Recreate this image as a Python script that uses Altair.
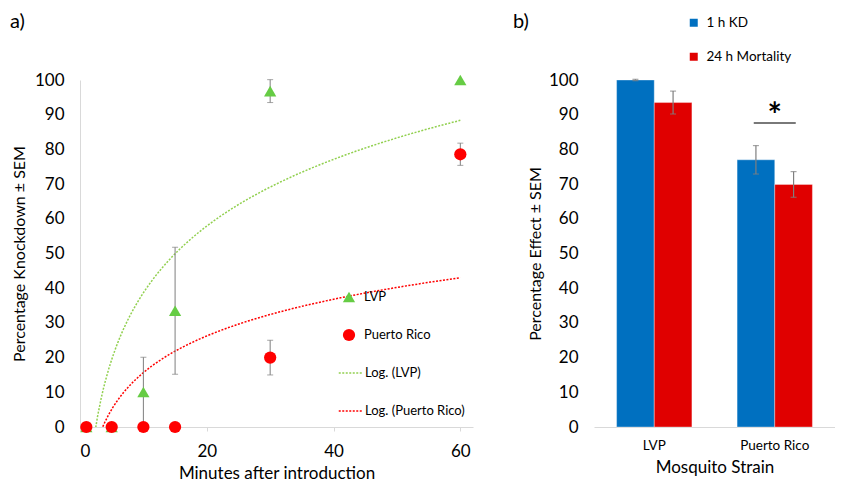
import altair as alt
import pandas as pd

# ---------- panel a) data ----------
minutes = [1, 5, 10, 15, 30, 60]
lvp_kd = [0, 0, 10.1, 33.5, 96.8, 100]
lvp_sem = [0, 0, 10.0, 18.3, 3.3, 0]
pr_kd = [0, 0, 0, 0, 20.0, 78.6]
pr_sem = [0, 0, 0, 0, 5.0, 3.2]
strain_names = ["LVP", "Puerto Rico"]
trend_names = ["Log. (LVP)", "Log. (Puerto Rico)"]

# ---------- panel b) data ----------
strains = ["LVP", "Puerto Rico"]
measures = ["1 h KD", "24 h Mortality"]
kd_1h = [100, 77.0]
kd_1h_sem = [0.2, 4.1]
mort_24h = [93.5, 69.9]
mort_24h_sem = [3.3, 3.7]
sig_strain = ["Puerto Rico"]
sig_line = [87.6]
sig_star = [89.3]

FONT = "Lato"
GREY = "#7f7f7f"
AXIS_GREY = "#d9d9d9"

rows = []
for s, t, vals, sems in [(strain_names[0], trend_names[0], lvp_kd, lvp_sem),
                         (strain_names[1], trend_names[1], pr_kd, pr_sem)]:
    for m, v, e in zip(minutes, vals, sems):
        rows.append({"minutes": m, "value": v, "sem": e, "lo": v - e, "hi": v + e,
                     "strain": s, "trend": t})
df_a = pd.DataFrame(rows)
df_err = df_a[df_a["sem"] > 0]

xscale_a = alt.Scale(domain=[0, 62], nice=False)
xa_axis = alt.Axis(values=[0, 20, 40, 60], title="Minutes after introduction", grid=False,
                   domainColor=AXIS_GREY, tickColor=AXIS_GREY, tickSize=4,
                   labelFontSize=17, titleFontSize=17, labelPadding=12,
                   titlePadding=6, titleFontWeight="normal", labelOverlap=False)
xa = alt.X("minutes:Q", scale=xscale_a, axis=xa_axis)
ya_axis = alt.Axis(values=list(range(0, 101, 10)), title="Percentage Knockdown ± SEM", grid=False,
                   ticks=False, domainColor=AXIS_GREY, labelFontSize=17, titleFontSize=16,
                   labelPadding=16, titlePadding=7, titleFontWeight="normal", labelOverlap=False)
yscale = alt.Scale(domain=[0, 100], nice=False)


def ya(field):
    return alt.Y(field, scale=yscale, axis=ya_axis)


trend = alt.Chart(df_a).transform_regression(
    "minutes", "value", method="log", groupby=["trend"], extent=[1, 60]
).mark_line(strokeDash=[2, 1.5], strokeWidth=1.5, clip=True).encode(
    x=xa,
    y=ya("value:Q"),
    color=alt.Color("trend:N", scale=alt.Scale(domain=trend_names, range=["#92D050", "#FF0000"]),
                    legend=alt.Legend(orient="none", legendX=258, legendY=280, title=None,
                                      symbolType="stroke", symbolDash=[2, 1.5], symbolStrokeWidth=1.5,
                                      symbolSize=600, labelFontSize=13, labelOffset=1,
                                      rowPadding=18, labelFont=FONT)),
)

err_rule = alt.Chart(df_err).mark_rule(color=GREY, strokeWidth=1).encode(
    x=xa, y=ya("lo:Q"), y2="hi:Q")
err_hi = alt.Chart(df_err).mark_tick(orient="horizontal", size=6, thickness=1, color=GREY).encode(
    x=xa, y=ya("hi:Q"))
err_lo = alt.Chart(df_err).mark_tick(orient="horizontal", size=6, thickness=1, color=GREY).encode(
    x=xa, y=ya("lo:Q"))

pt_legend = alt.Legend(orient="none", legendX=262, legendY=210, title=None, symbolSize=150,
                       labelFontSize=13, labelOffset=8, rowPadding=24, labelFont=FONT)
points = alt.Chart(df_a).mark_point(filled=True, size=150, opacity=1).encode(
    x=xa,
    y=ya("value:Q"),
    color=alt.Color("strain:N", scale=alt.Scale(domain=strain_names, range=["#66CC44", "#FF0000"]),
                    legend=pt_legend),
    shape=alt.Shape("strain:N", scale=alt.Scale(domain=strain_names, range=["triangle-up", "circle"]),
                    legend=pt_legend),
)

panel_a = alt.layer(trend, err_rule, err_hi, err_lo, points).resolve_scale(
    color="independent", shape="independent"
).properties(
    width=393, height=347,
    title=alt.TitleParams("a)", anchor="start", frame="group", dx=-70, offset=39,
                          fontSize=20, fontWeight="normal", font=FONT),
)

# ---------- panel b) ----------
rows_b = []
for i, s in enumerate(strains):
    for m, vals, sems in [(measures[0], kd_1h, kd_1h_sem), (measures[1], mort_24h, mort_24h_sem)]:
        v, e = vals[i], sems[i]
        rows_b.append({"strain": s, "measure": m, "value": v, "lo": v - e, "hi": v + e})
df_b = pd.DataFrame(rows_b)
df_sig = pd.DataFrame({"strain": sig_strain, "line": sig_line, "star_y": sig_star, "star": ["*"]})

xscale_b = alt.Scale(domain=strains, paddingInner=0, paddingOuter=0)
xb_axis = alt.Axis(labelAngle=0, ticks=False, domainColor=AXIS_GREY, title="Mosquito Strain",
                   labelFontSize=13.5, titleFontSize=17, labelPadding=11, titlePadding=8,
                   titleFontWeight="normal")
xb = alt.X("strain:N", scale=xscale_b, axis=xb_axis)
xoff = alt.XOffset("measure:N", scale=alt.Scale(domain=measures, paddingInner=0, paddingOuter=0.6))
yb_axis = alt.Axis(values=list(range(0, 101, 10)), title="Percentage Effect ± SEM", grid=False,
                   ticks=False, domain=False, labelFontSize=17, titleFontSize=16,
                   labelPadding=16, titlePadding=5, titleFontWeight="normal", labelOverlap=False)


def yb(field):
    return alt.Y(field, scale=yscale, axis=yb_axis)


bars = alt.Chart(df_b).mark_bar(stroke="white", strokeOpacity=0.35, strokeWidth=1).encode(
    x=xb, xOffset=xoff,
    y=yb("value:Q"),
    color=alt.Color("measure:N", scale=alt.Scale(domain=measures, range=["#0070C0", "#E00000"]),
                    legend=alt.Legend(orient="none", legendX=607, legendY=-64, title=None,
                                      symbolType="square", symbolSize=90, labelFontSize=13.5,
                                      labelOffset=6, rowPadding=18, labelFont=FONT)),
)
b_rule = alt.Chart(df_b).mark_rule(color=GREY, strokeWidth=1.2).encode(
    x=xb, xOffset=xoff, y=yb("lo:Q"), y2="hi:Q")
b_hi = alt.Chart(df_b).mark_tick(orient="horizontal", size=6, thickness=1.2, color=GREY).encode(
    x=xb, xOffset=xoff, y=yb("hi:Q"))
b_lo = alt.Chart(df_b).mark_tick(orient="horizontal", size=6, thickness=1.2, color=GREY).encode(
    x=xb, xOffset=xoff, y=yb("lo:Q"))
sig = alt.Chart(df_sig).mark_tick(orient="horizontal", size=42, thickness=1.5, color="black").encode(
    x=xb, y=yb("line:Q"))
star = alt.Chart(df_sig).mark_text(fontSize=34, fontWeight="bold", baseline="middle", font=FONT,
                                   color="black").encode(
    x=xb, y=yb("star_y:Q"), text="star:N")

panel_b = alt.layer(bars, b_rule, b_hi, b_lo, sig, star).properties(
    width=241, height=347,
    title=alt.TitleParams("b)", anchor="start", frame="group", dx=-81, offset=39,
                          fontSize=20, fontWeight="normal", font=FONT),
)

chart = alt.hconcat(panel_a, panel_b, spacing=121, bounds="flush").configure(
    font=FONT,
    padding={"left": 2, "top": 4, "right": 0, "bottom": 0},
).configure_view(stroke=None).configure_axis(
    labelColor="black", titleColor="black", labelFont=FONT, titleFont=FONT
).configure_legend(labelColor="black")

chart.save("out.html", embed_options={"renderer": "svg", "actions": False})
